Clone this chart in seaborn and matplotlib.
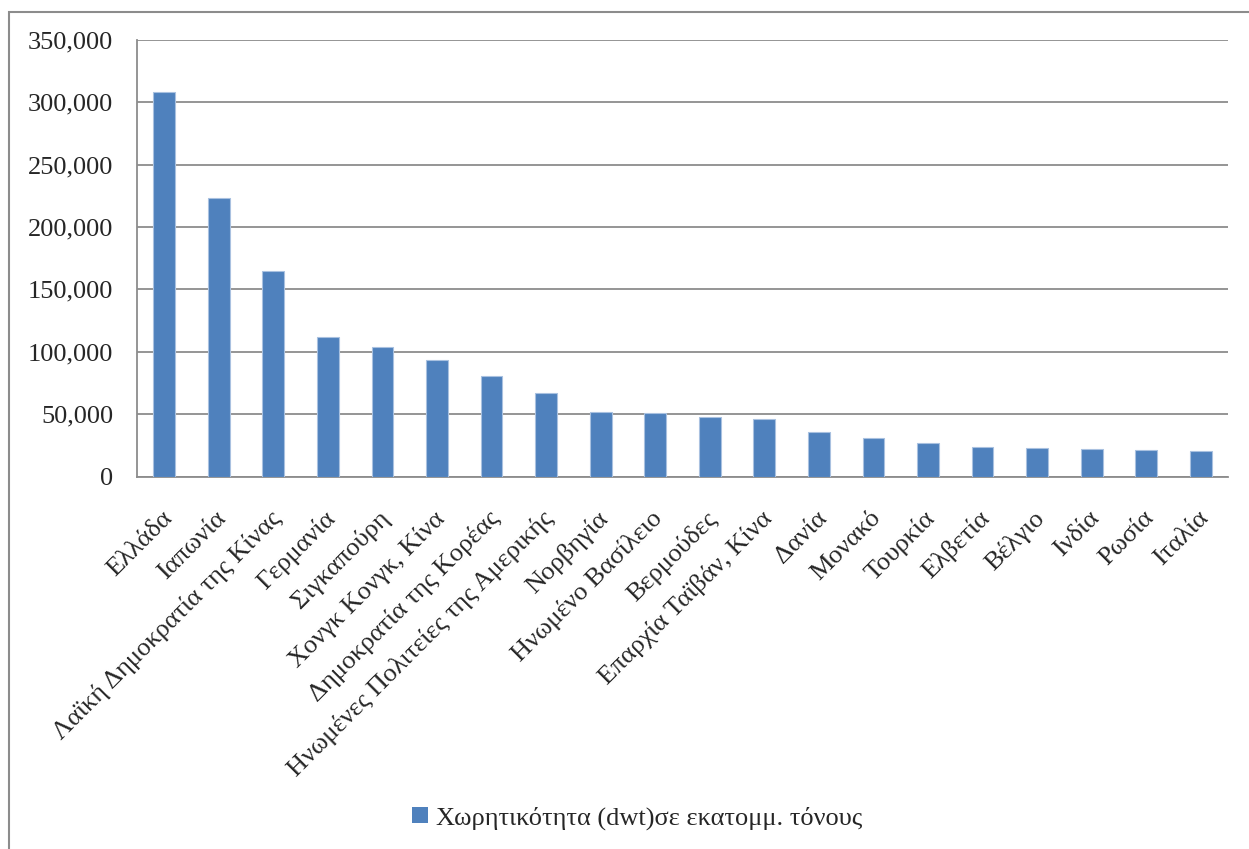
import numpy as np
import pandas as pd
import seaborn as sns
import matplotlib.pyplot as plt
import matplotlib.transforms as mtrans
from matplotlib.ticker import FuncFormatter, FixedLocator
from matplotlib.patches import Rectangle

# countries and capacity (dwt)
countries = ['Ελλάδα', 'Ιαπωνία', 'Λαϊκή Δημοκρατία της Κίνας', 'Γερμανία',
             'Σιγκαπούρη', 'Χονγκ Κονγκ, Κίνα', 'Δημοκρατία της Κορέας',
             'Ηνωμένες Πολιτείες της Αμερικής', 'Νορβηγία', 'Ηνωμένο Βασίλειο',
             'Βερμούδες', 'Επαρχία Ταϊβάν, Κίνα', 'Δανία', 'Μονακό', 'Τουρκία',
             'Ελβετία', 'Βέλγιο', 'Ινδία', 'Ρωσία', 'Ιταλία']
capacity = [308700, 223400, 164900, 111900, 104100, 93300, 80600, 66700,
            51400, 50800, 47600, 46200, 35700, 30900, 27100, 23400, 23100,
            22300, 21500, 20200]
series_label = 'Χωρητικότητα (dwt)σε εκατομμ. τόνους'
y_ticks = [0, 50000, 100000, 150000, 200000, 250000, 300000, 350000]

bar_color = '#4F81BD'
grid_color = '#8C8C8C'

sns.set_theme(style='white')
plt.rcParams['font.family'] = ['Liberation Serif', 'DejaVu Serif']

df = pd.DataFrame({'Country': countries, 'Capacity': capacity})

fig = plt.figure(figsize=(12.49, 8.49), dpi=100)
ax = fig.add_axes([137 / 1249, 1 - 476.5 / 849, (1228 - 137) / 1249, (476.5 - 40) / 849])

sns.barplot(data=df, x='Country', y='Capacity', color=bar_color, width=0.4,
            saturation=1, edgecolor='#A9C1E0', linewidth=0.8, ax=ax, zorder=3)

ax.set_xlim(-0.5, len(countries) - 0.5)
ax.set_ylim(0, 350000)
ax.yaxis.set_major_locator(FixedLocator(y_ticks))
ax.yaxis.set_major_formatter(FuncFormatter(lambda v, p: f'{int(v):,}'))
ax.grid(axis='y', color=grid_color, linewidth=1.3, zorder=0)
ax.set_axisbelow(True)

for s in ['top', 'right']:
    ax.spines[s].set_visible(False)
for s in ['left', 'bottom']:
    ax.spines[s].set_color(grid_color)
    ax.spines[s].set_linewidth(1.3)

# Excel style ticks between categories
ax.set_xticks(np.arange(-0.5, len(countries)), minor=True)
ax.tick_params(axis='x', which='minor', length=8, width=1.3, color=grid_color, direction='out')
ax.tick_params(axis='x', which='major', length=0, pad=22)
ax.tick_params(axis='y', length=8, width=1.3, color=grid_color, direction='out', pad=9)
plt.setp(ax.get_xticklabels(), rotation=45, ha='right', va='top', fontsize=19)
plt.setp(ax.get_yticklabels(), fontsize=19)
ax.set_xlabel('')
ax.set_ylabel('')

# shift x labels a bit right so their ends sit at the bar
offset = mtrans.ScaledTranslation(12 / 100, 0, fig.dpi_scale_trans)
for t in ax.get_xticklabels():
    t.set_transform(t.get_transform() + offset)

handle = Rectangle((0, 0), 1, 1, facecolor=bar_color, edgecolor='none')
fig.legend([handle], [series_label], loc='center', bbox_to_anchor=(0.51, 1 - 818 / 849),
           frameon=False, fontsize=19, handlelength=0.6, handleheight=0.6,
           handletextpad=0.3)

# chart area border (cut off at the right and bottom)
fig.patches.append(Rectangle((8.5 / 1249, -0.1), 1.2, 1 - 12 / 849 + 0.1,
                             transform=fig.transFigure, fill=False,
                             edgecolor=grid_color, linewidth=1.5))

fig.savefig('out.png', dpi=100)
